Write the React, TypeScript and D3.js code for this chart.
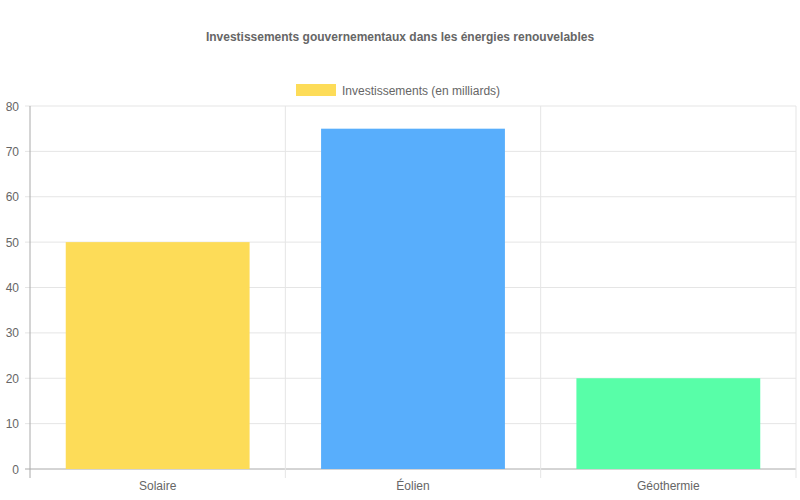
import * as d3 from 'd3'
import React from 'react'

const categories = ['Solaire', 'Éolien', 'Géothermie']
const investments = [50, 75, 20]
const barColors = ['#fddc58', '#58aefc', '#58fea8']
const yTicks = [0, 10, 20, 30, 40, 50, 60, 70, 80]
const title = 'Investissements gouvernementaux dans les énergies renouvelables'
const seriesName = 'Investissements (en milliards)'

const W = 800, H = 500
const m = { top: 106, right: 4, bottom: 31, left: 30 }
const font = '"Liberation Sans", Arial, Helvetica, sans-serif'

const App = () => {
  const
    x = d3.scaleBand<string>().domain(categories).range([m.left, W - m.right]).paddingInner(0).paddingOuter(0),
    y = d3.scaleLinear().domain([0, 80]).range([H - m.bottom, m.top]),
    inner = x.bandwidth() * 0.72,
    edges = categories.map(c => x(c)!).concat([W - m.right])

  return (
    <svg width={W} height={H} style={{ position: 'absolute', left: 0, top: 0 }} fontFamily={font}>
      <rect width={W} height={H} fill='#fff' />
      <text x={W / 2} y={41} textAnchor='middle' fontSize={12} fontWeight='bold' fill='#666'>{title}</text>
      <rect x={296} y={84} width={40} height={12} fill={barColors[0]} />
      <text x={342} y={94.5} fontSize={12} fill='#666'>{seriesName}</text>
      {yTicks.map(t => (
        <g key={t}>
          <line x1={m.left - 5} x2={W - m.right} y1={y(t)} y2={y(t)} stroke={t === 0 ? '#aaa' : '#e5e5e5'} />
          <text x={19} y={y(t) + 4.5} textAnchor='end' fontSize={12} fill='#666'>{t}</text>
        </g>
      ))}
      {edges.map((e, i) => (
        <line key={i} x1={e} x2={e} y1={m.top} y2={H - m.bottom + 9} stroke={i === 0 ? '#aaa' : '#e5e5e5'} />
      ))}
      {categories.map((c, i) => (
        <g key={c}>
          <rect x={x(c)! + (x.bandwidth() - inner) / 2} y={y(investments[i])} width={inner}
            height={y(0) - y(investments[i])} fill={barColors[i]} />
          <text x={x(c)! + x.bandwidth() / 2} y={H - m.bottom + 21} textAnchor='middle' fontSize={12} fill='#666'>{c}</text>
        </g>
      ))}
    </svg>
  )
}

export default App
